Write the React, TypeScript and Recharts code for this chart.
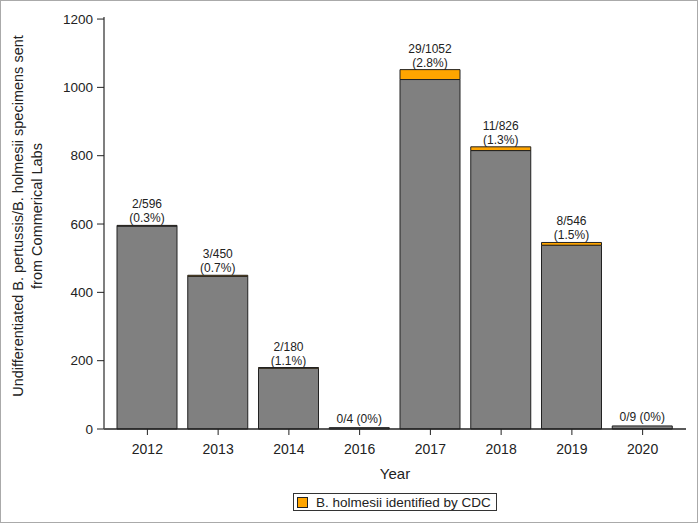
import React from "react"
import { BarChart, Bar, XAxis, YAxis, LabelList } from "recharts"

const years = ["2012", "2013", "2014", "2016", "2017", "2018", "2019", "2020"]
const totals = [596, 450, 180, 4, 1052, 826, 546, 9]
const holmesii = [2, 3, 2, 0, 29, 11, 8, 0]
const pctLabels = ["0.3%", "0.7%", "1.1%", "0%", "2.8%", "1.3%", "1.5%", "0%"]
const yTicks = [0, 200, 400, 600, 800, 1000, 1200]

const data = years.map((year, i) => ({
  year,
  idx: i,
  other: totals[i] - holmesii[i],
  holmesii: holmesii[i],
}))

const FONT = "'Liberation Sans', Arial, sans-serif"
const GRAY = "#808080"
const ORANGE = "#FFA500"
const FRAME = "#555"

// label sits on the gray bar; lift it above the orange segment using the bar's own scale
const renderLabel = (props: any) => {
  const { x, y, width, height, value } = props
  const i = Number(value)
  const cx = Number(x) + Number(width) / 2
  const perUnit = Number(height) / (totals[i] - holmesii[i])
  const top = Number(y) - holmesii[i] * perUnit
  const frac = `${holmesii[i]}/${totals[i]}`
  const pct = `(${pctLabels[i]})`
  if (holmesii[i] === 0) {
    return (
      <text x={cx} y={top - 5} textAnchor="middle" fontSize={12} fill="#222" fontFamily={FONT}>
        {`${frac} ${pct}`}
      </text>
    )
  }
  return (
    <g>
      <text x={cx} y={top - 17} textAnchor="middle" fontSize={12} fill="#222" fontFamily={FONT}>{frac}</text>
      <text x={cx} y={top - 3} textAnchor="middle" fontSize={12} fill="#222" fontFamily={FONT}>{pct}</text>
    </g>
  )
}

export default function App() {
  return (
    <div style={{ position: "absolute", left: 0, top: 0, width: 698, height: 523, background: "#fff", fontFamily: FONT }}>
      <div style={{ position: "absolute", left: 0, top: 0, width: 698, height: 523, border: "1px solid #aaa", boxSizing: "border-box" }} />
      <BarChart
        width={698}
        height={523}
        data={data}
        margin={{ top: 17, right: 12, bottom: 64, left: 0 }}
        barSize={60}
      >
        <XAxis
          dataKey="year"
          height={30}
          padding={{ left: 8, right: 8 }}
          axisLine={{ stroke: "#222", strokeWidth: 1.5 }}
          tickLine={{ stroke: "#222" }}
          tickSize={6}
          tickMargin={9}
          tick={{ fill: "#222", fontSize: 14, fontFamily: FONT }}
        />
        <XAxis
          xAxisId="top"
          dataKey="year"
          orientation="top"
          height={0}
          tick={false}
          tickLine={false}
          axisLine={{ stroke: FRAME, strokeWidth: 1.5 }}
        />
        <YAxis
          width={104}
          domain={[0, 1206]}
          ticks={yTicks}
          interval={0}
          axisLine={{ stroke: FRAME, strokeWidth: 1.5 }}
          tickLine={{ stroke: "#222" }}
          tickSize={7}
          tickMargin={4}
          tick={{ fill: "#222", fontSize: 13.5, fontFamily: FONT }}
        />
        <YAxis
          yAxisId="right"
          orientation="right"
          width={0}
          domain={[0, 1206]}
          tick={false}
          tickLine={false}
          axisLine={{ stroke: FRAME, strokeWidth: 1.5 }}
        />
        <Bar dataKey="other" stackId="a" fill={GRAY} stroke="#222" strokeWidth={1} isAnimationActive={false}>
          <LabelList dataKey="idx" content={renderLabel} />
        </Bar>
        <Bar dataKey="holmesii" stackId="a" fill={ORANGE} stroke="#222" strokeWidth={1} isAnimationActive={false} />
      </BarChart>

      {/* y axis title, two lines */}
      <div
        style={{
          position: "absolute",
          left: 28,
          top: 216,
          width: 420,
          transform: "translate(-50%, -50%) rotate(-90deg)",
          textAlign: "center",
          fontSize: 14.5,
          lineHeight: "19px",
          color: "#222",
          whiteSpace: "nowrap",
        }}
      >
        Undifferentiated B. pertussis/B. holmesii specimens sent
        <br />
        from Commerical Labs
      </div>

      {/* x axis title */}
      <div style={{ position: "absolute", left: 395, top: 473, transform: "translate(-50%, -50%)", fontSize: 15, color: "#222" }}>
        Year
      </div>

      {/* legend */}
      <div
        style={{
          position: "absolute",
          left: 293,
          top: 493,
          width: 204,
          height: 18,
          border: "1px solid #333",
          boxSizing: "border-box",
          display: "flex",
          alignItems: "center",
          paddingLeft: 3,
          fontSize: 13.5,
          color: "#222",
        }}
      >
        <span style={{ display: "inline-block", width: 9, height: 9, background: ORANGE, border: "1px solid #222", marginRight: 8 }} />
        <span style={{ whiteSpace: "nowrap" }}>B. holmesii identified by CDC</span>
      </div>
    </div>
  )
}
